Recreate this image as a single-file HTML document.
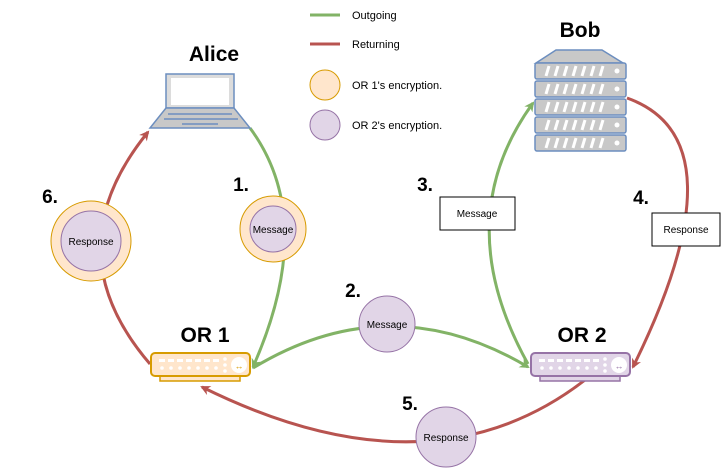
<!DOCTYPE html>
<html><head><style>body{margin:0;background:#fff}svg{display:block}text{font-family:"Liberation Sans",Arial,sans-serif}</style></head><body>
<svg width="726" height="469" viewBox="0 0 726 469" xmlns="http://www.w3.org/2000/svg">
<defs>
<marker id="ag" markerWidth="10" markerHeight="10" refX="8" refY="5" orient="auto" markerUnits="userSpaceOnUse"><path d="M0,0 L10,5 L0,10 L3,5 Z" fill="#82b366"/></marker>
<marker id="ar" markerWidth="10" markerHeight="10" refX="8" refY="5" orient="auto" markerUnits="userSpaceOnUse"><path d="M0,0 L10,5 L0,10 L3,5 Z" fill="#b85450"/></marker>
<g id="ports"><g fill="#fff"><rect x="8" y="6" width="6" height="3"/><rect x="17" y="6" width="6" height="3"/><rect x="26" y="6" width="6" height="3"/><rect x="35" y="6" width="6" height="3"/><rect x="44" y="6" width="6" height="3"/><rect x="53" y="6" width="6" height="3"/><rect x="62" y="6" width="6" height="3"/><circle cx="11" cy="15" r="1.8"/><circle cx="20" cy="15" r="1.8"/><circle cx="29" cy="15" r="1.8"/><circle cx="38" cy="15" r="1.8"/><circle cx="47" cy="15" r="1.8"/><circle cx="56" cy="15" r="1.8"/><circle cx="65" cy="15" r="1.8"/><circle cx="74" cy="6" r="1.8"/><circle cx="74" cy="12" r="1.8"/><circle cx="74" cy="18" r="1.8"/><circle cx="88" cy="12" r="8"/></g></g>
</defs>
<line x1="310" y1="15" x2="340" y2="15" stroke="#82b366" stroke-width="3"/>
<text x="352" y="19" font-size="11">Outgoing</text>
<line x1="310" y1="44" x2="340" y2="44" stroke="#b85450" stroke-width="3"/>
<text x="352" y="48" font-size="11">Returning</text>
<circle cx="325" cy="85" r="15" fill="#ffe6cc" stroke="#d79b00"/>
<text x="352" y="89" font-size="11">OR 1's encryption.</text>
<circle cx="325" cy="125" r="15" fill="#e1d5e7" stroke="#9673a6"/>
<text x="352" y="129" font-size="11">OR 2's encryption.</text>
<path d="M250,128 Q318,220 253,367" fill="none" stroke="#82b366" stroke-width="3" marker-end="url(#ag)"/>
<path d="M150,364 Q52,250 148,132" fill="none" stroke="#b85450" stroke-width="3" marker-end="url(#ar)"/>
<path d="M253,368 Q390,285 528,367" fill="none" stroke="#82b366" stroke-width="3" marker-end="url(#ag)"/>
<path d="M528,364 Q448,220 533,103" fill="none" stroke="#82b366" stroke-width="3" marker-end="url(#ag)"/>
<path d="M627,98 Q745,140 633,367" fill="none" stroke="#b85450" stroke-width="3" marker-end="url(#ar)"/>
<path d="M585,380 Q430,500 202,387" fill="none" stroke="#b85450" stroke-width="3" marker-end="url(#ar)"/>
<circle cx="273" cy="229" r="33" fill="#ffe6cc" stroke="#d79b00"/>
<circle cx="273" cy="229" r="23" fill="#e1d5e7" stroke="#9673a6"/>
<text x="273" y="233" font-size="10" text-anchor="middle">Message</text>
<circle cx="91" cy="241" r="40" fill="#ffe6cc" stroke="#d79b00"/>
<circle cx="91" cy="241" r="30" fill="#e1d5e7" stroke="#9673a6"/>
<text x="91" y="245" font-size="10" text-anchor="middle">Response</text>
<circle cx="387" cy="324" r="28" fill="#e1d5e7" stroke="#9673a6"/>
<text x="387" y="328" font-size="10" text-anchor="middle">Message</text>
<circle cx="446" cy="437" r="30" fill="#e1d5e7" stroke="#9673a6"/>
<text x="446" y="441" font-size="10" text-anchor="middle">Response</text>
<rect x="440" y="197" width="75" height="33" fill="#fff" stroke="#000"/>
<text x="477" y="217" font-size="10" text-anchor="middle">Message</text>
<rect x="652" y="213" width="68" height="33" fill="#fff" stroke="#000"/>
<text x="686" y="233" font-size="10" text-anchor="middle">Response</text>
<path d="M166,108 L166,74 L234,74 L234,108 Z" fill="#dcdcdc" stroke="#6c8ebf" stroke-width="1.5"/>
<rect x="171" y="78" width="58" height="27" fill="#fff"/>
<path d="M166,108 L234,108 L250,128 L150,128 Z" fill="#c8c8c8" stroke="#6c8ebf" stroke-width="1.5"/>
<line x1="168" y1="114" x2="232" y2="114" stroke="#6c8ebf" stroke-width="1.5"/>
<line x1="164" y1="119" x2="238" y2="119" stroke="#6c8ebf" stroke-width="1.5"/>
<line x1="182" y1="124" x2="218" y2="124" stroke="#6c8ebf" stroke-width="1.5"/>
<path d="M536,63 L556,50 L602,50 L623,63 Z" fill="#c8c8c8" stroke="#6c8ebf" stroke-width="1.5"/>
<g fill="#c8c8c8" stroke="#6c8ebf" stroke-width="1.5">
<rect x="535" y="63" width="91" height="16" rx="2"/><rect x="535" y="81" width="91" height="16" rx="2"/><rect x="535" y="99" width="91" height="16" rx="2"/><rect x="535" y="117" width="91" height="16" rx="2"/><rect x="535" y="135" width="91" height="16" rx="2"/></g>
<g stroke="#fff" stroke-width="3" fill="#fff">
<path d="M546,76 l3,-10 M555,76 l3,-10 M564,76 l3,-10 M573,76 l3,-10 M582,76 l3,-10 M591,76 l3,-10 M600,76 l3,-10"/><circle cx="617" cy="71" r="2.5" stroke="none"/>
<path d="M546,94 l3,-10 M555,94 l3,-10 M564,94 l3,-10 M573,94 l3,-10 M582,94 l3,-10 M591,94 l3,-10 M600,94 l3,-10"/><circle cx="617" cy="89" r="2.5" stroke="none"/>
<path d="M546,112 l3,-10 M555,112 l3,-10 M564,112 l3,-10 M573,112 l3,-10 M582,112 l3,-10 M591,112 l3,-10 M600,112 l3,-10"/><circle cx="617" cy="107" r="2.5" stroke="none"/>
<path d="M546,130 l3,-10 M555,130 l3,-10 M564,130 l3,-10 M573,130 l3,-10 M582,130 l3,-10 M591,130 l3,-10 M600,130 l3,-10"/><circle cx="617" cy="125" r="2.5" stroke="none"/>
<path d="M546,148 l3,-10 M555,148 l3,-10 M564,148 l3,-10 M573,148 l3,-10 M582,148 l3,-10 M591,148 l3,-10 M600,148 l3,-10"/><circle cx="617" cy="143" r="2.5" stroke="none"/>
</g>
<rect x="160" y="375" width="80" height="6" fill="#ffe6cc" stroke="#d79b00" stroke-width="1.5"/>
<rect x="151" y="353" width="99" height="23" rx="4" fill="#ffe6cc" stroke="#d79b00" stroke-width="2"/>
<use href="#ports" x="151" y="353"/>
<text x="239" y="369" font-size="9" fill="#d79b00" text-anchor="middle">↔</text>
<rect x="540" y="375" width="80" height="6" fill="#e1d5e7" stroke="#9673a6" stroke-width="1.5"/>
<rect x="531" y="353" width="99" height="23" rx="4" fill="#e1d5e7" stroke="#9673a6" stroke-width="2"/>
<use href="#ports" x="531" y="353"/>
<text x="619" y="369" font-size="9" fill="#9673a6" text-anchor="middle">↔</text>
<g font-weight="bold" font-size="21" text-anchor="middle">
<text x="214" y="61">Alice</text><text x="580" y="37">Bob</text>
<text x="205" y="342">OR 1</text><text x="582" y="342">OR 2</text>
</g>
<g font-weight="bold" font-size="19" text-anchor="middle">
<text x="241" y="191">1.</text><text x="353" y="297">2.</text><text x="425" y="191">3.</text>
<text x="641" y="204">4.</text><text x="410" y="410">5.</text><text x="50" y="203">6.</text>
</g>
</svg>
</body></html>
